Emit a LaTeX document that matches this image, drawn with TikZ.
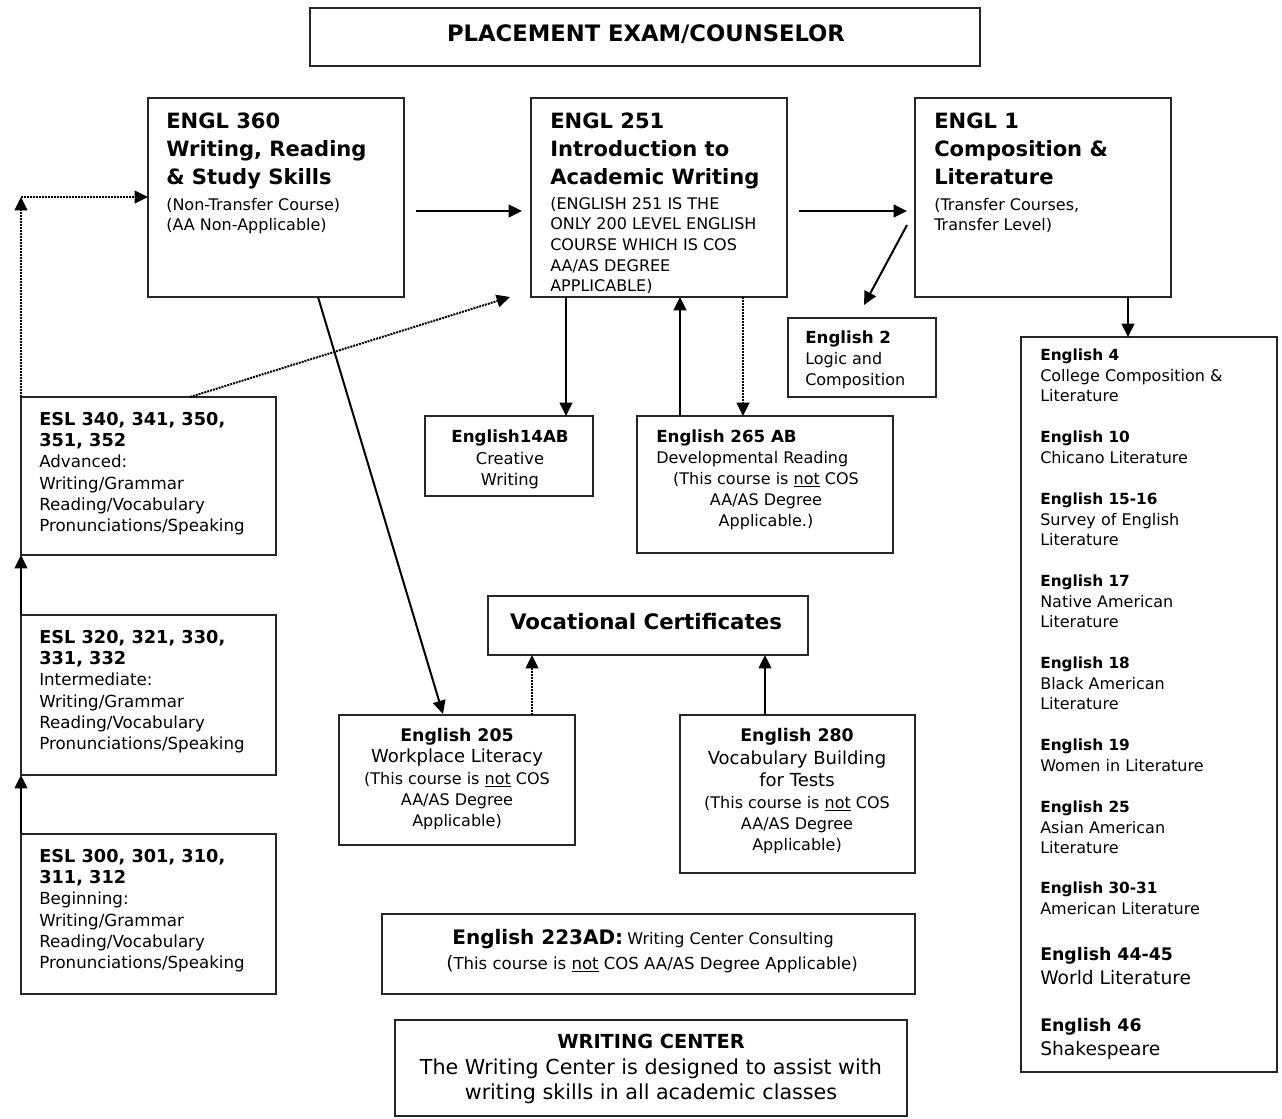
\documentclass[tikz,border=0pt]{standalone}
\usepackage{fontspec}
\setmainfont{DejaVu Sans}
\usetikzlibrary{arrows.meta,calc,fit}
\begin{document}
\begin{tikzpicture}[x=0.75pt,y=-0.75pt,
  box/.style={draw=black!85, line width=1.1pt, inner sep=0pt, outer sep=0pt},
  arr/.style={line width=1.5pt, -{Triangle[length=10pt,width=9.5pt]}},
  darr/.style={arr, dash pattern=on 1.5pt off 0.75pt},
  hd/.style={font=\fontsize{15.8}{21}\selectfont\bfseries, anchor=north west, inner sep=0pt, align=left},
  sm/.style={font=\fontsize{12}{15.2}\selectfont, anchor=north west, inner sep=0pt, align=left},
  esl/.style={font=\fontsize{12.5}{15.9}\selectfont, anchor=north west, inner sep=0pt, align=left},
  mid/.style={font=\fontsize{12.2}{15.9}\selectfont, anchor=north, inner sep=0pt, align=center},
  lst/.style={font=\fontsize{12}{15.4}\selectfont, anchor=north west, inner sep=0pt, align=left},
  lstb/.style={font=\fontsize{14}{18}\selectfont, anchor=north west, inner sep=0pt, align=left},
  one/.style={inner sep=0pt, anchor=base},
]
\useasboundingbox (0,0) rectangle (1282,1118);

% ---------- boxes ----------
\node[box, fit={(310,8) (980,66)}] (pl) {};
\node[box, fit={(148,98) (404,297)}] (e360) {};
\node[box, fit={(531,98) (787,297)}] (e251) {};
\node[box, fit={(915,98) (1171,297)}] (e1) {};
\node[box, fit={(788,318) (936,397)}] (e2) {};
\node[box, fit={(1021,337) (1277,1072)}] (lit) {};
\node[box, fit={(21,397) (276,555)}] (esl3) {};
\node[box, fit={(21,615) (276,775)}] (esl2) {};
\node[box, fit={(21,834) (276,994)}] (esl1) {};
\node[box, fit={(425,416) (593,496)}] (e14) {};
\node[box, fit={(637,416) (893,553)}] (e265) {};
\node[box, fit={(488,596) (808,655)}] (voc) {};
\node[box, fit={(339,715) (575,845)}] (e205) {};
\node[box, fit={(680,715) (915,873)}] (e280) {};
\node[box, fit={(382,914) (915,994)}] (e223) {};
\node[box, fit={(395,1020) (907,1116)}] (wc) {};

% ---------- texts ----------
\node[one, font=\fontsize{17}{20}\selectfont\bfseries] (tpl) at (646,41) {PLACEMENT EXAM/COUNSELOR};

\node[hd] (t360) at (166,113) {ENGL 360\\Writing, Reading\\\& Study Skills};
\node[sm] (s360) at (166,198) {(Non-Transfer Course)\\(AA Non-Applicable)};

\node[hd] (t251) at (550,113) {ENGL 251\\Introduction to\\Academic Writing};
\node[sm, font=\fontsize{12}{15.4}\selectfont] (s251) at (550,197) {(ENGLISH 251 IS THE\\ONLY 200 LEVEL ENGLISH\\COURSE WHICH IS COS\\AA/AS DEGREE\\APPLICABLE)};

\node[hd] (t1) at (934,113) {ENGL 1\\Composition \&\\Literature};
\node[sm] (s1) at (934,198) {(Transfer Courses,\\Transfer Level)};

\node[esl, font=\fontsize{12}{15.75}\selectfont] (t2) at (805,331) {{\bfseries\fontsize{12.5}{15.75}\selectfont English 2}\\Logic and\\Composition};

\node[esl] (tesl3) at (39,412) {{\bfseries\fontsize{13.3}{15.9}\selectfont ESL 340, 341, 350,}\\{\bfseries\fontsize{13.3}{15.9}\selectfont 351, 352}\\Advanced:\\Writing/Grammar\\Reading/Vocabulary\\Pronunciations/Speaking};
\node[esl] (tesl2) at (39,630) {{\bfseries\fontsize{13.3}{15.9}\selectfont ESL 320, 321, 330,}\\{\bfseries\fontsize{13.3}{15.9}\selectfont 331, 332}\\Intermediate:\\Writing/Grammar\\Reading/Vocabulary\\Pronunciations/Speaking};
\node[esl] (tesl1) at (39,849) {{\bfseries\fontsize{13.3}{15.9}\selectfont ESL 300, 301, 310,}\\{\bfseries\fontsize{13.3}{15.9}\selectfont 311, 312}\\Beginning:\\Writing/Grammar\\Reading/Vocabulary\\Pronunciations/Speaking};

\node[mid] (t14) at (510,430) {{\bfseries\fontsize{12.5}{15.9}\selectfont English14AB}\\Creative\\Writing};

\node[esl, font=\fontsize{12}{15.75}\selectfont] (t265a) at (656,430) {{\bfseries\fontsize{12.5}{15.75}\selectfont English 265 AB}\\Developmental Reading};
\node[mid, font=\fontsize{12}{15.75}\selectfont] (t265b) at (766,472) {(This course is \underline{not} COS\\AA/AS Degree\\Applicable.)};

\node[one, font=\fontsize{16}{19}\selectfont\bfseries] (tvoc) at (646,629) {Vocational Certificates};

\node[mid, font=\fontsize{12}{16}\selectfont] (t205) at (457,728) {{\bfseries\fontsize{13}{16}\selectfont English 205}\\{\fontsize{13.5}{16}\selectfont Workplace Literacy}\\(This course is \underline{not} COS\\AA/AS Degree\\Applicable)};

\node[mid, font=\fontsize{13.5}{17}\selectfont] (t280a) at (797,728) {{\bfseries\fontsize{13}{17}\selectfont English 280}\\Vocabulary Building\\for Tests};
\node[mid, font=\fontsize{12}{15.75}\selectfont] (t280b) at (797,796) {(This course is \underline{not} COS\\AA/AS Degree\\Applicable)};

\node[one] (t223a) at (643,944) {{\fontsize{15}{17}\selectfont\bfseries English 223AD:} {\fontsize{12}{14}\selectfont Writing Center Consulting}};
\node[one, font=\fontsize{12.4}{15}\selectfont] (t223b) at (652,969) {{\fontsize{14}{17}\selectfont(}This course is \underline{not} COS AA/AS Degree Applicable)};

\node[one, font=\fontsize{14.5}{17}\selectfont\bfseries] (twc1) at (651,1048) {WRITING CENTER};
\node[one, font=\fontsize{15.5}{18}\selectfont] (twc2) at (651,1074) {The Writing Center is designed to assist with};
\node[one, font=\fontsize{15.5}{18}\selectfont] (twc3) at (651,1099) {writing skills in all academic classes};

% literature list
\node[lst] (l4) at (1040,349) {{\bfseries\fontsize{11.5}{15.4}\selectfont English 4}\\College Composition \&\\Literature};
\node[lst] (l10) at (1040,431) {{\bfseries\fontsize{11.5}{15.4}\selectfont English 10}\\Chicano Literature};
\node[lst] (l15) at (1040,493) {{\bfseries\fontsize{11.5}{15.4}\selectfont English 15-16}\\Survey of English\\Literature};
\node[lst] (l17) at (1040,575) {{\bfseries\fontsize{11.5}{15.4}\selectfont English 17}\\Native American\\Literature};
\node[lst] (l18) at (1040,657) {{\bfseries\fontsize{11.5}{15.4}\selectfont English 18}\\Black American\\Literature};
\node[lst] (l19) at (1040,739) {{\bfseries\fontsize{11.5}{15.4}\selectfont English 19}\\Women in Literature};
\node[lst] (l25) at (1040,801) {{\bfseries\fontsize{11.5}{15.4}\selectfont English 25}\\Asian American\\Literature};
\node[lst] (l30) at (1040,882) {{\bfseries\fontsize{11.5}{15.4}\selectfont English 30-31}\\American Literature};
\node[lstb] (l44) at (1040,947) {{\bfseries\fontsize{13}{18}\selectfont English 44-45}\\World Literature};
\node[lstb] (l46) at (1040,1018) {{\bfseries\fontsize{13}{18}\selectfont English 46}\\Shakespeare};

% ---------- connectors ----------
\draw[arr] ($(e360.north east)+(12,113)$) -- ($(e251.north west)+(-9,113)$);
\draw[arr] ($(e251.north east)+(12,113)$) -- ($(e1.north west)+(-8,113)$);
\draw[arr] ($(e1.north west)+(-8,127)$) -- ($(e2.north west)+(76,-13)$);
\draw[arr] ($(e1.south west)+(213,0)$) -- ($(lit.north west)+(107,0)$);
\draw[arr] ($(e360.south west)+(170,0)$) -- ($(e205.north west)+(104,-1)$);
\draw[darr] ($(esl3.north west)+(169,0)$) -- ($(e251.south west)+(-21,0)$);
\draw[arr] ($(e251.south west)+(35,0)$) -- ($(e14.north west)+(141,0)$);
\draw[arr] ($(e265.north west)+(43,0)$) -- ($(e251.south west)+(149,0)$);
\draw[darr] ($(e251.south west)+(212,0)$) -- ($(e265.north west)+(106,0)$);
\draw[darr] ($(e205.north west)+(193,0)$) -- ($(voc.south west)+(44,0)$);
\draw[arr] ($(e280.north west)+(85,0)$) -- ($(voc.south west)+(277,0)$);
\draw[arr] (esl1.north west) -- (esl2.south west);
\draw[arr] (esl2.north west) -- (esl3.south west);
\coordinate (cn) at ($(e360.north west)+(-127,99)$);
\draw[darr] (esl3.north west) -- (cn);
\draw[darr] (cn) -- ($(e360.north west)+(0,99)$);
\end{tikzpicture}
\end{document}
